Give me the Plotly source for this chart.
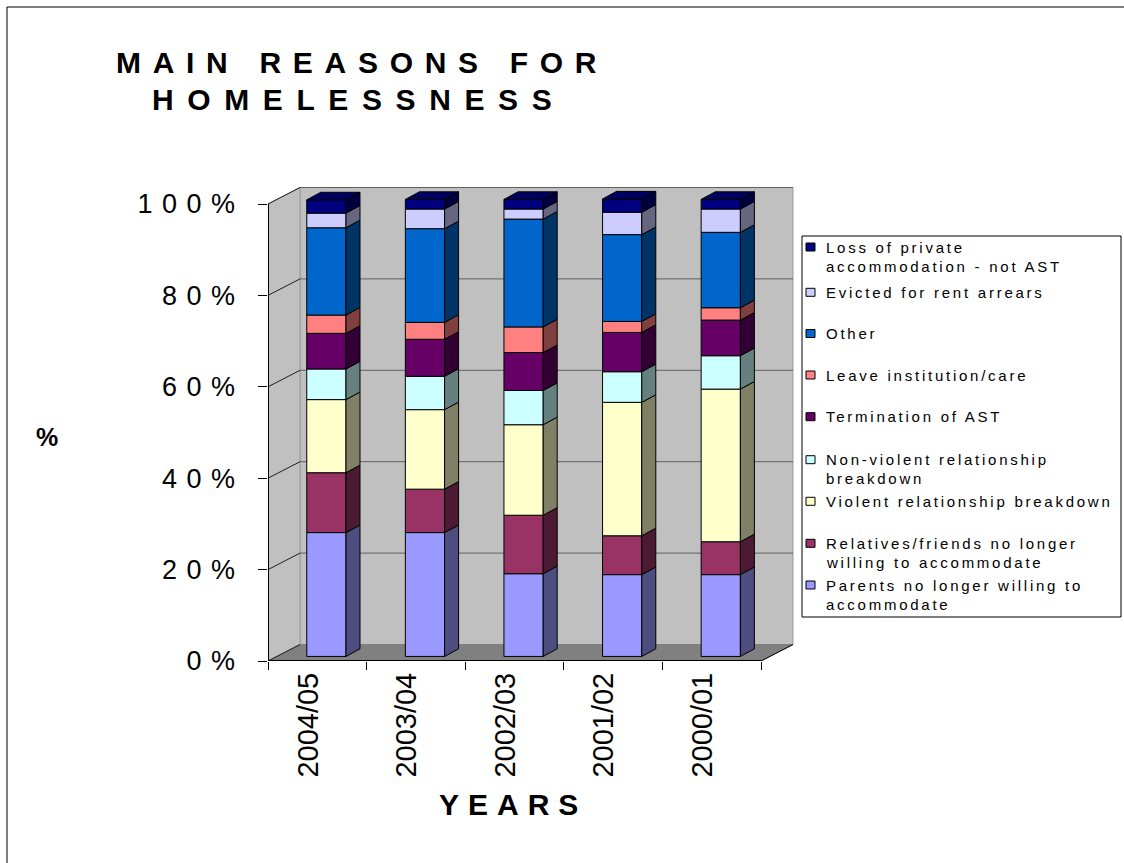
import plotly.graph_objects as go

# ---------------- data ----------------
years = ["2004/05", "2003/04", "2002/03", "2001/02", "2000/01"]
y_tick_values = [0, 20, 40, 60, 80, 100]
y_tick_labels = ["0%", "20%", "40%", "60%", "80%", "100%"]

parents = [27.1, 27.1, 18.1, 17.9, 17.9]
relatives = [13.1, 9.5, 12.8, 8.5, 7.2]
violent = [16.0, 17.4, 19.8, 29.2, 33.4]
non_violent = [6.7, 7.3, 7.5, 6.7, 7.3]
termination = [7.8, 8.1, 8.3, 8.6, 7.8]
leave = [4.0, 3.7, 5.6, 2.4, 2.7]
other = [19.1, 20.5, 23.6, 19.0, 16.5]
evicted = [3.2, 4.3, 2.2, 4.9, 5.1]
loss = [2.9, 2.1, 2.1, 2.9, 2.1]

legend_lines = [
    ["Loss of private", "accommodation - not AST"],
    ["Evicted for rent arrears"],
    ["Other"],
    ["Leave institution/care"],
    ["Termination of AST"],
    ["Non-violent relationship", "breakdown"],
    ["Violent relationship breakdown"],
    ["Relatives/friends no longer", "willing to accommodate"],
    ["Parents no longer willing to", "accommodate"],
]

# bottom -> top stacking order
series = [parents, relatives, violent, non_violent, termination, leave, other, evicted, loss]
front_colors = ["#9999FF", "#993366", "#FFFFCC", "#CCFFFF", "#660066",
                "#FF8080", "#0066CC", "#CCCCFF", "#000080"]
side_colors = ["#4D4D80", "#4D1A33", "#808066", "#668080", "#330033",
               "#804040", "#003366", "#666680", "#000040"]
top_color = "#000060"

# ---------------- geometry / style ----------------
FONT = "Liberation Sans, Arial, sans-serif"
W, H = 1124, 863
L, R, T, B = 268, 800, 185, 661           # plot area in pixels
PXX = 98.6                                 # pixels per category
PXY = 4.57                                 # pixels per percent
XMAX = (R - L) / PXX
YMAX = (B - T) / PXY
DXW, DYW = 32 / PXX, 16.5 / PXY            # wall depth
DXB, DYB = 14 / PXX, 7.6 / PXY             # bar depth
XOFF, BW = 0.592, 0.398                    # bar front-face centre offset and width
BASE_OFF = 1.0
N = len(years)


def px(xp):
    return (xp - L) / (R - L)


def py(yp):
    return (B - yp) / (B - T)


def spaced(text, sp):
    return f'<span style="letter-spacing:{sp}px">{text}</span>'


fig = go.Figure()

cum = [0.0] * N
for k, vals in enumerate(series):
    base = [BASE_OFF + c for c in cum]
    xc = [i + XOFF for i in range(N)]
    fig.add_trace(go.Bar(
        x=xc, y=vals, base=base, width=BW,
        marker=dict(color=front_colors[k], line=dict(color="black", width=1)),
        showlegend=False, hoverinfo="skip"))
    xs, ys = [], []
    for i in range(N):
        xr = xc[i] + BW / 2
        b0 = base[i]
        t0 = base[i] + vals[i]
        xs += [xr, xr + DXB, xr + DXB, xr, xr, None]
        ys += [b0, b0 + DYB, t0 + DYB, t0, b0, None]
    fig.add_trace(go.Scatter(
        x=xs, y=ys, mode="lines", fill="toself", fillcolor=side_colors[k],
        line=dict(color="black", width=1), showlegend=False, hoverinfo="skip"))
    cum = [c + v for c, v in zip(cum, vals)]

# top faces of the stacks
xs, ys = [], []
for i in range(N):
    xl = i + XOFF - BW / 2
    xr = i + XOFF + BW / 2
    t0 = BASE_OFF + cum[i]
    xs += [xl, xr, xr + DXB, xl + DXB, xl, None]
    ys += [t0, t0, t0 + DYB, t0 + DYB, t0, None]
fig.add_trace(go.Scatter(
    x=xs, y=ys, mode="lines", fill="toself", fillcolor=top_color,
    line=dict(color="black", width=1), showlegend=False, hoverinfo="skip"))

shapes = []
top_val = y_tick_values[-1]
# back wall
shapes.append(dict(type="path", layer="below", xref="x", yref="y",
                   path=f"M {DXW} {DYW} L {N + DXW} {DYW} L {N + DXW} {top_val + DYW} L {DXW} {top_val + DYW} Z",
                   fillcolor="#C0C0C0", line=dict(color="#9A9A9A", width=1)))
# left wall
shapes.append(dict(type="path", layer="below", xref="x", yref="y",
                   path=f"M 0 0 L {DXW} {DYW} L {DXW} {top_val + DYW} L 0 {top_val} Z",
                   fillcolor="#C0C0C0", line=dict(color="#9A9A9A", width=1)))
# floor
shapes.append(dict(type="path", layer="below", xref="x", yref="y",
                   path=f"M 0 0 L {N} 0 L {N + DXW} {DYW} L {DXW} {DYW} Z",
                   fillcolor="#808080", line=dict(color="#808080", width=1)))
# gridlines on back wall and left wall
for v in y_tick_values[1:]:
    shapes.append(dict(type="line", layer="below", xref="x", yref="y",
                       x0=DXW, x1=N + DXW, y0=v + DYW, y1=v + DYW,
                       line=dict(color="#606060", width=1)))
for v in y_tick_values:
    shapes.append(dict(type="line", layer="below", xref="x", yref="y",
                       x0=0, x1=DXW, y0=v, y1=v + DYW,
                       line=dict(color="#202020", width=1)))
# y axis line and x axis (front floor edge) line
shapes.append(dict(type="line", layer="above", xref="x", yref="y",
                   x0=0, x1=0, y0=0, y1=top_val, line=dict(color="black", width=2)))
shapes.append(dict(type="line", layer="above", xref="x", yref="y",
                   x0=0, x1=N, y0=0, y1=0, line=dict(color="black", width=2)))
shapes.append(dict(type="line", layer="below", xref="x", yref="y",
                   x0=N, x1=N + DXW, y0=0, y1=DYW, line=dict(color="black", width=1)))

# chart frame
shapes.append(dict(type="rect", xref="paper", yref="paper",
                   x0=px(7), x1=px(1140), y0=py(880), y1=py(7),
                   line=dict(color="black", width=1), fillcolor="rgba(0,0,0,0)"))

# legend box and swatches
leg_x0, leg_x1, leg_y0, leg_y1 = 802, 1121, 236, 617
shapes.append(dict(type="rect", xref="paper", yref="paper",
                   x0=px(leg_x0), x1=px(leg_x1), y0=py(leg_y1), y1=py(leg_y0),
                   line=dict(color="black", width=1), fillcolor="white"))

legend_y = [247, 292.3, 333.5, 375, 416.7, 459.7, 501.3, 543.3, 585]
legend_colors = list(reversed(front_colors))
annotations = []
for j, lines in enumerate(legend_lines):
    cy = legend_y[j]
    shapes.append(dict(type="rect", xref="paper", yref="paper",
                       x0=px(806), x1=px(815), y0=py(cy + 4), y1=py(cy - 4),
                       fillcolor=legend_colors[j], line=dict(color="black", width=1)))
    for k, txt in enumerate(lines):
        annotations.append(dict(
            xref="paper", yref="paper", x=px(824), y=py(cy + k * 19),
            xanchor="left", yanchor="middle", showarrow=False,
            text=spaced(txt, 2.75), font=dict(family=FONT, size=15, color="black")))

# titles
annotations.append(dict(xref="paper", yref="paper", x=px(114), y=py(62),
                        xanchor="left", yanchor="middle", showarrow=False,
                        text=spaced("MAIN REASONS FOR", 11.7),
                        font=dict(family=FONT, size=30, color="black", weight="bold")))
annotations.append(dict(xref="paper", yref="paper", x=px(150), y=py(100),
                        xanchor="left", yanchor="middle", showarrow=False,
                        text=spaced("HOMELESSNESS", 13.6),
                        font=dict(family=FONT, size=30, color="black", weight="bold")))
annotations.append(dict(xref="paper", yref="paper", x=px(437), y=py(804),
                        xanchor="left", yanchor="middle", showarrow=False,
                        text=spaced("YEARS", 9),
                        font=dict(family=FONT, size=30, color="black", weight="bold")))
annotations.append(dict(xref="paper", yref="paper", x=px(47), y=py(437),
                        xanchor="center", yanchor="middle", showarrow=False,
                        text="%", font=dict(family=FONT, size=25, color="black", weight="bold")))

fig.update_layout(
    width=W, height=H,
    margin=dict(l=L, r=W - R, t=T, b=H - B, pad=0),
    paper_bgcolor="white", plot_bgcolor="white",
    barmode="overlay", showlegend=False,
    shapes=shapes, annotations=annotations,
    font=dict(family=FONT, color="black"),
    xaxis=dict(range=[0, XMAX], showgrid=False, zeroline=False, showline=False,
               tickmode="array", tickvals=[i + 0.407 for i in range(N)], ticktext=years,
               ticks="", tickangle=-90, ticklabelstandoff=5,
               tickfont=dict(family=FONT, size=29, color="black"),
               minor=dict(tickmode="array", tickvals=list(range(N + 1)), ticks="outside",
                          ticklen=8, tickwidth=1, tickcolor="black", showgrid=False),
               automargin=False, fixedrange=True),
    yaxis=dict(range=[0, YMAX], showgrid=False, zeroline=False, showline=False,
               tickmode="array", tickvals=y_tick_values,
               ticktext=[spaced(t, 9.5) for t in y_tick_labels],
               ticks="outside", ticklen=9, tickwidth=1, tickcolor="black",
               ticklabelstandoff=8,
               tickfont=dict(family=FONT, size=27, color="black"),
               automargin=False, fixedrange=True),
)

fig.write_html("out.html")
